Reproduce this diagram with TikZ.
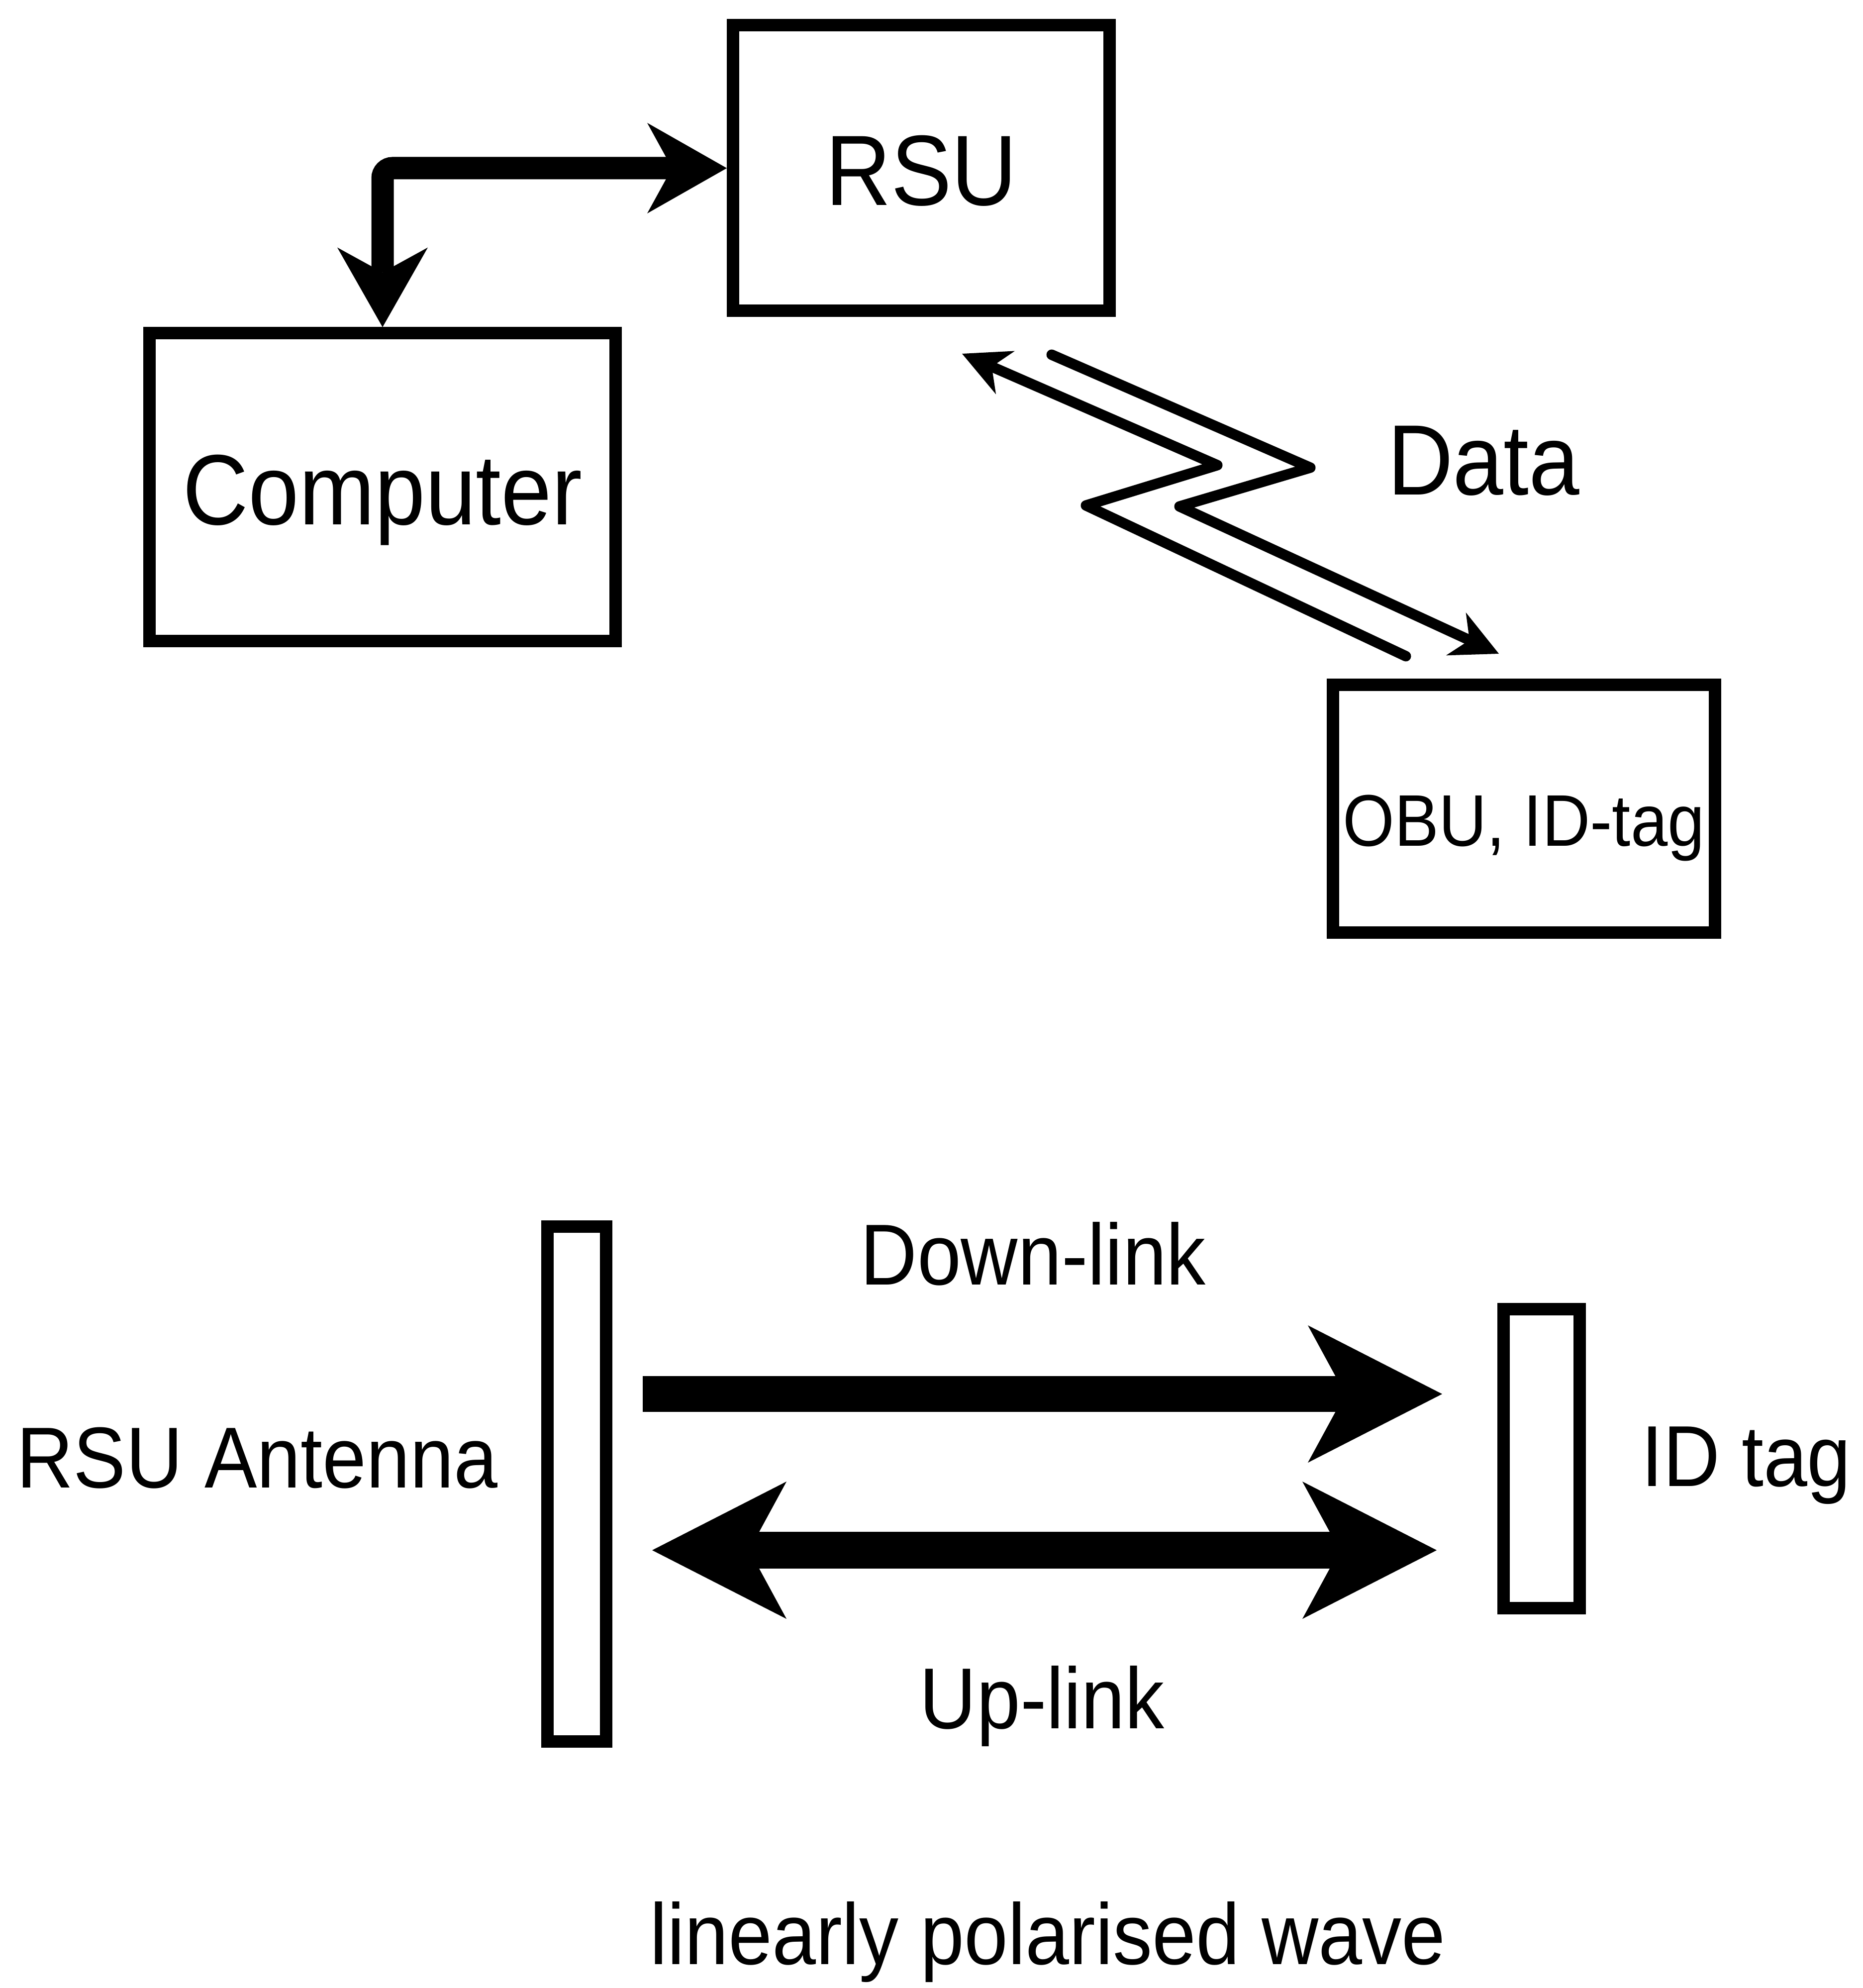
\documentclass[tikz,border=0pt]{standalone}
\usepackage{graphicx}
\usepackage{fontspec}
\setmainfont{Liberation Sans}
\usetikzlibrary{arrows.meta}
\newcommand{\tall}[1]{\scalebox{1}[1.1]{#1}}
\tikzset{
  box/.style={draw, line width=0.25cm, inner sep=0pt, text height=1.5cm, text depth=0pt},
  txt/.style={anchor=base, inner sep=0pt},
  bigfont/.style={font=\fontsize{52}{60}\selectfont},
  midfont/.style={font=\fontsize{45}{54}\selectfont},
  smallfont/.style={font=\fontsize{38}{44}\selectfont},
  wave/.style={line width=0.21cm, line cap=round, line join=round},
  thintip/.tip={Stealth[length=0.95cm, width=0.95cm, inset=0.3cm, line width=0pt]},
  midtip/.tip={Stealth[length=1.6cm, width=1.82cm, inset=0.5cm, line width=0pt]},
  fattip/.tip={Stealth[length=2.7cm, width=2.76cm, inset=0.75cm, line width=0pt]}
}
\begin{document}
\begin{tikzpicture}[x=1cm, y=-1cm]
\useasboundingbox (0,0) rectangle (37.44,39.96);
\node[box, bigfont, minimum width=7.57cm, minimum height=5.74cm] (rsu) at (18.52,3.38) {\tall{RSU}};
\node[box, bigfont, minimum width=9.37cm, minimum height=6.18cm] (computer) at (7.69,9.79) {\tall{Computer}};
\node[box, smallfont, minimum width=7.68cm, minimum height=4.98cm] (obu) at (30.63,16.25) {\tall{OBU, ID-tag}};
\draw[line width=0.45cm, rounded corners=0.2cm, midtip-midtip] (computer.north) |- (rsu.west);
\coordinate (a0) at (28.26,13.19);
\coordinate (a1) at (21.83,10.16);
\coordinate (a2) at (24.47,9.35);
\coordinate (a3) at (19.34,7.11);
\coordinate (b0) at (21.14,7.13);
\coordinate (b1) at (26.34,9.40);
\coordinate (b2) at (23.71,10.18);
\coordinate (b3) at (30.13,13.14);
\draw[wave, -thintip] (a0) -- (a1) -- (a2) -- (a3);
\draw[wave, -thintip] (b0) -- (b1) -- (b2) -- (b3);
\node[txt, bigfont] (data) at (29.82,9.94) {\tall{Data}};
\node[box, minimum width=1.18cm, minimum height=10.35cm] (antenna) at (11.59,29.825) {};
\node[box, minimum width=1.53cm, minimum height=6.01cm] (idtag) at (30.985,29.315) {};
\coordinate (d0) at (12.92,28.02);
\coordinate (d1) at (28.99,28.02);
\coordinate (u0) at (13.11,31.16);
\coordinate (u1) at (28.88,31.16);
\draw[line width=0.72cm, -fattip] (d0) -- (d1);
\draw[line width=0.74cm, fattip-fattip] (u0) -- (u1);
\node[txt, midfont] (down) at (20.77,25.82) {\tall{Down-link}};
\node[txt, midfont] (up) at (20.95,34.74) {\tall{Up-link}};
\node[txt, midfont] (antname) at (5.17,29.90) {\tall{RSU Antenna}};
\node[txt, midfont] (tagname) at (35.10,29.87) {\tall{ID tag}};
\node[txt, midfont] (polar) at (21.06,39.48) {\tall{linearly polarised wave}};
\end{tikzpicture}
\end{document}
